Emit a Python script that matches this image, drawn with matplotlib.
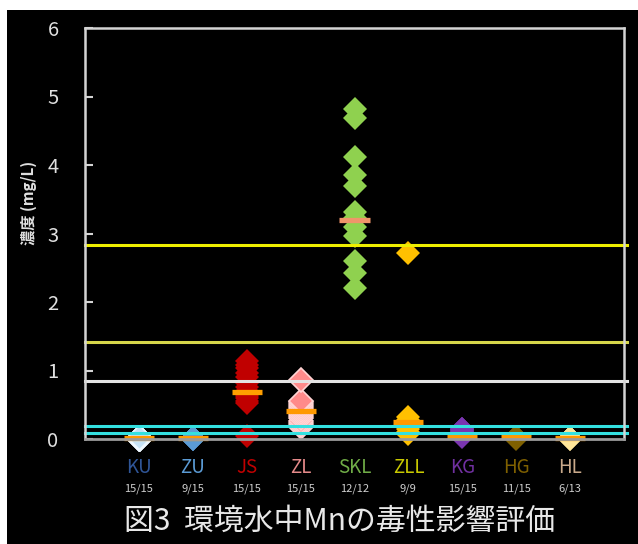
import matplotlib
matplotlib.use("Agg")
import matplotlib.pyplot as plt
from matplotlib.patches import Rectangle
import numpy as np

plt.rcParams['font.family'] = ['Noto Sans CJK JP', 'DejaVu Sans']

# Sampling sites, detection counts and measured Mn concentrations (mg/L)
categories = ['KU', 'ZU', 'JS', 'ZL', 'SKL', 'ZLL', 'KG', 'HG', 'HL']
counts = ['15/15', '9/15', '15/15', '15/15', '12/12', '9/9', '15/15', '11/15', '6/13']

ku_values = [0.0, 0.0, 0.0, 0.01, 0.01, 0.01, 0.01, 0.02, 0.02, 0.02, 0.02, 0.03, 0.03, 0.03, 0.03]
zu_values = [0.0, 0.0, 0.0, 0.01, 0.01, 0.01, 0.02, 0.02, 0.02]
js_values = [0.04, 0.52, 0.56, 0.60, 0.63, 0.66, 0.69, 0.70, 0.76, 0.82, 0.90, 0.97, 1.03, 1.08, 1.14]
zl_values = [0.18, 0.21, 0.24, 0.27, 0.30, 0.33, 0.37, 0.40, 0.42, 0.45, 0.48, 0.51, 0.54, 0.56, 0.86]
skl_values = [2.20, 2.43, 2.60, 2.97, 3.10, 3.22, 3.32, 3.70, 3.86, 4.12, 4.69, 4.82]
zll_values = [0.07, 0.10, 0.14, 0.18, 0.22, 0.25, 0.28, 0.32, 2.72]
kg_values = [0.03, 0.04, 0.05, 0.06, 0.07, 0.08, 0.08, 0.09, 0.10, 0.11, 0.12, 0.13, 0.14, 0.14, 0.15]
hg_values = [0.0, 0.01, 0.01, 0.01, 0.02, 0.02, 0.02, 0.02, 0.03, 0.03, 0.03]
hl_values = [0.0, 0.0, 0.01, 0.01, 0.02, 0.02]

medians = [0.02, 0.01, 0.69, 0.41, 3.20, 0.25, 0.04, 0.03, 0.01]

# Reference (effect) levels, mg/L
ref_levels = [2.83, 1.42, 0.85, 0.195, 0.09]

y_ticks = [0, 1, 2, 3, 4, 5, 6]

series = [ku_values, zu_values, js_values, zl_values, skl_values,
          zll_values, kg_values, hg_values, hl_values]

marker_face = ['#c6e2f6', '#5b9bd5', '#c00000', '#ff8a8a', '#8fd14f',
               '#ffc000', '#7a35b0', '#7f6000', '#ffe699']
marker_edge = ['#eef7ff', '#5b9bd5', '#c00000', '#ffd4d4', '#8fd14f',
               '#ffc000', '#7a35b0', '#7f6000', '#ffe699']
edge_width = [1.0, 0, 0, 1.2, 0, 0, 0, 0, 0]
median_color = ['#ff9900', '#ff9900', '#ff9f00', '#ff9900', '#f0956a',
                '#ff9900', '#ff9900', '#ff9900', '#ff9900']
label_color = ['#2f5597', '#5b9bd5', '#c00000', '#e58a8a', '#70ad47',
               '#c9c900', '#7030a0', '#7f6000', '#c9a98a']
ref_colors = ['#eeee00', '#d6d64a', '#e4e4e4', '#33e0e0', '#33e0e0']

fig = plt.figure(figsize=(6.38, 5.44), dpi=100, facecolor='white')
fig.patches.append(Rectangle((7 / 638, 0), 1, 1 - 10 / 544, transform=fig.transFigure,
                             facecolor='black', edgecolor='none', zorder=-10))

ax = fig.add_axes([85 / 638, 1 - 439 / 544, (624 - 85) / 638, (439 - 28) / 544])
ax.set_facecolor('black')
ax.set_xlim(-1, 9)
ax.set_ylim(0, 6)

x = np.arange(len(categories))
for i, vals in enumerate(series):
    ax.plot(np.full(len(vals), x[i]), vals, linestyle='none', marker='D',
            markersize=12, markerfacecolor=marker_face[i],
            markeredgecolor=marker_edge[i], markeredgewidth=edge_width[i],
            clip_on=False, zorder=3)
ax.hlines(medians, x - 0.28, x + 0.28, colors=median_color, linewidth=3.8,
          zorder=4, clip_on=False)

for lvl, c in zip(ref_levels, ref_colors):
    ax.axhline(lvl, color=c, linewidth=2.2, zorder=5, xmax=1.006, clip_on=False)

for side in ['left', 'top', 'right']:
    ax.spines[side].set_color('#d4d4d4')
    ax.spines[side].set_linewidth(1.8)
ax.spines['bottom'].set_color('#9a9a9a')
ax.spines['bottom'].set_linewidth(2.0)
for sp in ax.spines.values():
    sp.set_zorder(6)

ax.set_yticks(y_ticks)
ax.tick_params(axis='y', direction='in', length=6, width=1.5, color='#d4d4d4',
               labelcolor='#e0e0e0', labelsize=14.5, pad=19)
ax.set_xticks([])

ax.set_ylabel('濃度 (mg/L)', color='#e0e0e0', fontsize=11, fontweight='bold')
ax.yaxis.set_label_coords(-48 / 539, (439 - 203) / 411)

for i, (name, cnt) in enumerate(zip(categories, counts)):
    ax.annotate(name, xy=(x[i], 0), xycoords=('data', 'axes fraction'),
                xytext=(0, -20.5), textcoords='offset points',
                ha='center', va='center', fontsize=13.5, color=label_color[i])
    ax.annotate(cnt, xy=(x[i], 0), xycoords=('data', 'axes fraction'),
                xytext=(0, -35.5), textcoords='offset points',
                ha='center', va='center', fontsize=8, color='#cfcfcf')

fig.text(340 / 638, 1 - 521 / 544, '図3  環境水中Mnの毒性影響評価', ha='center',
         va='center', fontsize=21.5, color='#e8e8e8')

fig.savefig('out.png', dpi=100, facecolor=fig.get_facecolor())
